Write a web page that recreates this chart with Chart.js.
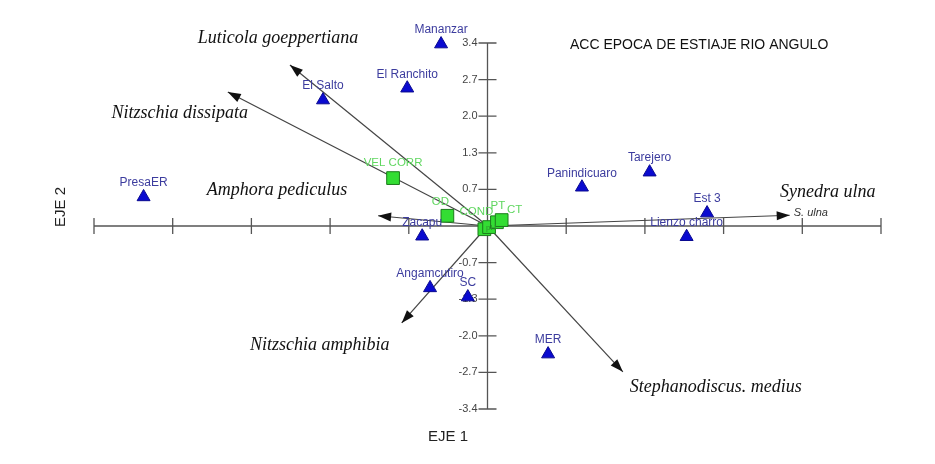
<!DOCTYPE html>
<html>
<head>
<meta charset="utf-8">
<script src="https://cdn.jsdelivr.net/npm/chart.js@4.4.0/dist/chart.umd.min.js"></script>
<style>
	html, body { margin: 0; padding: 0; background: #fff; }
	#wrap { width: 935px; height: 464px; }
</style>
</head>
<body>
<div id="wrap"><canvas id="acc" width="935" height="464"></canvas></div>
<script>
	// Sitios de muestreo (triangulos azules)
	const siteNames = ["PresaER", "El Salto", "El Ranchito", "Mananzar", "Zacapu", "Angamcutiro", "SC", "MER", "Panindicuaro", "Tarejero", "Est 3", "Lienzo charro"];
	const siteX = [-4.37, -2.09, -1.02, -0.59, -0.83, -0.73, -0.25, 0.77, 1.20, 2.06, 2.79, 2.53];
	const siteY = [0.54, 2.34, 2.56, 3.38, -0.19, -1.15, -1.32, -2.38, 0.72, 1.00, 0.24, -0.20];

	// Variables ambientales (cuadros verdes)
	const envNames = ["VEL CORR", "OD", "COND", "pH", "PT", "CT"];
	const envX = [-1.20, -0.51, -0.04, 0.02, 0.12, 0.18];
	const envY = [0.89, 0.19, -0.06, -0.02, 0.07, 0.11];

	// Especies (flechas desde el origen)
	const speciesNames = ["Luticola goeppertiana", "Nitzschia dissipata", "Amphora pediculus", "Nitzschia amphibia", "Stephanodiscus. medius", "Synedra ulna"];
	const speciesX = [-2.51, -3.30, -1.39, -1.09, 1.72, 3.84];
	const speciesY = [2.99, 2.49, 0.19, -1.80, -2.71, 0.20];

	// Marcas de los ejes
	const xTicks = [-5, -4, -3, -2, -1, 1, 2, 3, 4, 5];
	const yTicks = [-3.4, -2.72, -2.04, -1.36, -0.68, 0.68, 1.36, 2.04, 2.72, 3.4];
	const yTickLabels = ["-3.4", "-2.7", "-2.0", "-1.3", "-0.7", "0.7", "1.3", "2.0", "2.7", "3.4"];

	// desplazamientos de etiquetas en pixeles
	const envLabelOffset = [[0, -15], [-7, -14], [-8, -17], [2, 1], [1, -16], [13, -10]];
	const speciesLabelOffset = [[-12, -27], [-48, 21], [-101, -26], [-82, 22], [93, 15], [38, -23]];

	function toPoints(xs, ys) {
		return xs.map(function (x, i) { return { x: x, y: ys[i] }; });
	}

	// Ejes cruzados en el centro con marcas a ambos lados
	const crossAxes = {
		id: "crossAxes",
		beforeDatasetsDraw(chart) {
			const ctx = chart.ctx;
			const sx = chart.scales.x, sy = chart.scales.y;
			const x0 = sx.getPixelForValue(0), y0 = sy.getPixelForValue(0);
			ctx.save();
			ctx.strokeStyle = "#555";
			ctx.lineWidth = 1.3;
			ctx.beginPath();
			ctx.moveTo(sx.getPixelForValue(-5), y0);
			ctx.lineTo(sx.getPixelForValue(5), y0);
			ctx.moveTo(x0, sy.getPixelForValue(3.4));
			ctx.lineTo(x0, sy.getPixelForValue(-3.4));
			xTicks.forEach(function (v) {
				const p = sx.getPixelForValue(v);
				ctx.moveTo(p, y0 - 8);
				ctx.lineTo(p, y0 + 8);
			});
			yTicks.forEach(function (v) {
				const p = sy.getPixelForValue(v);
				ctx.moveTo(x0 - 9, p);
				ctx.lineTo(x0 + 9, p);
			});
			ctx.stroke();
			ctx.fillStyle = "#444";
			ctx.font = "11px Arial, 'Liberation Sans', sans-serif";
			ctx.textAlign = "right";
			ctx.textBaseline = "middle";
			yTicks.forEach(function (v, i) {
				ctx.fillText(yTickLabels[i], x0 - 10, sy.getPixelForValue(v));
			});
			ctx.restore();
		},
		afterDatasetsDraw(chart) {
			const ctx = chart.ctx;
			const sx = chart.scales.x, sy = chart.scales.y;
			const x0 = sx.getPixelForValue(0), y0 = sy.getPixelForValue(0);
			ctx.save();

			// puntas de flecha
			ctx.fillStyle = "#111";
			speciesX.forEach(function (v, i) {
				const ex = sx.getPixelForValue(v), ey = sy.getPixelForValue(speciesY[i]);
				const a = Math.atan2(ey - y0, ex - x0);
				ctx.beginPath();
				ctx.moveTo(ex, ey);
				ctx.lineTo(ex - 13 * Math.cos(a) + 4.5 * Math.sin(a), ey - 13 * Math.sin(a) - 4.5 * Math.cos(a));
				ctx.lineTo(ex - 13 * Math.cos(a) - 4.5 * Math.sin(a), ey - 13 * Math.sin(a) + 4.5 * Math.cos(a));
				ctx.closePath();
				ctx.fill();
			});

			// nombres de especies
			ctx.fillStyle = "#111";
			ctx.font = "italic 18px 'Liberation Serif', 'Times New Roman', serif";
			ctx.textAlign = "center";
			ctx.textBaseline = "middle";
			speciesNames.forEach(function (name, i) {
				const ex = sx.getPixelForValue(speciesX[i]), ey = sy.getPixelForValue(speciesY[i]);
				ctx.fillText(name, ex + speciesLabelOffset[i][0], ey + speciesLabelOffset[i][1]);
			});
			// abreviatura junto a la flecha
			ctx.font = "italic 11px Arial, 'Liberation Sans', sans-serif";
			ctx.fillStyle = "#333";
			ctx.textAlign = "left";
			ctx.fillText("S. ulna", sx.getPixelForValue(speciesX[5]) + 4, sy.getPixelForValue(speciesY[5]) - 2);

			// nombres de sitios
			ctx.font = "12px Arial, 'Liberation Sans', sans-serif";
			ctx.fillStyle = "#3c3c9e";
			ctx.textAlign = "center";
			siteNames.forEach(function (name, i) {
				ctx.fillText(name, sx.getPixelForValue(siteX[i]), sy.getPixelForValue(siteY[i]) - 14);
			});

			// nombres de variables ambientales
			ctx.fillStyle = "#5fd65f";
			ctx.font = "11.5px Arial, 'Liberation Sans', sans-serif";
			envNames.forEach(function (name, i) {
				if (name === "pH") {
					ctx.fillStyle = "#2e8f2e";
					ctx.font = "8px Arial, 'Liberation Sans', sans-serif";
				}
				ctx.fillText(name, sx.getPixelForValue(envX[i]) + envLabelOffset[i][0], sy.getPixelForValue(envY[i]) + envLabelOffset[i][1]);
				ctx.fillStyle = "#5fd65f";
				ctx.font = "11.5px Arial, 'Liberation Sans', sans-serif";
			});

			// titulo y ejes
			ctx.fillStyle = "#111";
			ctx.font = "14px Arial, 'Liberation Sans', sans-serif";
			ctx.textAlign = "left";
			ctx.fillText("ACC EPOCA DE ESTIAJE RIO ANGULO", 570, 45);
			ctx.fillStyle = "#222";
			ctx.font = "15px Arial, 'Liberation Sans', sans-serif";
			ctx.textAlign = "center";
			ctx.fillText("EJE 1", 448, 437);
			ctx.translate(61, 207);
			ctx.rotate(-Math.PI / 2);
			ctx.fillText("EJE 2", 0, 0);
			ctx.restore();
		}
	};

	function arrowDatasets() {
		return speciesNames.map(function (name, i) {
			return {
				label: name,
				data: [{ x: 0, y: 0 }, { x: speciesX[i], y: speciesY[i] }],
				showLine: true,
				borderColor: "#444",
				borderWidth: 1.2,
				pointRadius: 0,
				order: 3,
			};
		});
	}

	function createBiplot() {
		const ctx = document.getElementById("acc").getContext("2d");
		return new Chart(ctx, {
			type: "scatter",
			data: {
				datasets: arrowDatasets().concat([
					{
						label: "Sitios",
						data: toPoints(siteX, siteY),
						pointStyle: "triangle",
						pointRadius: 7.5,
						backgroundColor: "#0a0ad0",
						borderColor: "#0a0a90",
						borderWidth: 1,
						order: 2,
					},
					{
						label: "Variables",
						data: toPoints(envX, envY),
						pointStyle: "rect",
						pointRadius: 9,
						backgroundColor: "#33dd33",
						borderColor: "#1c7a1c",
						borderWidth: 1,
						order: 1,
					},
				]),
			},
			options: {
				responsive: false,
				animation: false,
				clip: false,
				layout: { padding: { left: 94, right: 54, top: 43, bottom: 55 } },
				scales: {
					x: { type: "linear", min: -5, max: 5, display: false },
					y: { type: "linear", min: -3.4, max: 3.4, display: false },
				},
				plugins: {
					legend: { display: false },
					tooltip: { enabled: false },
				},
			},
			plugins: [crossAxes],
		});
	}

	createBiplot();
</script>
</body>
</html>
